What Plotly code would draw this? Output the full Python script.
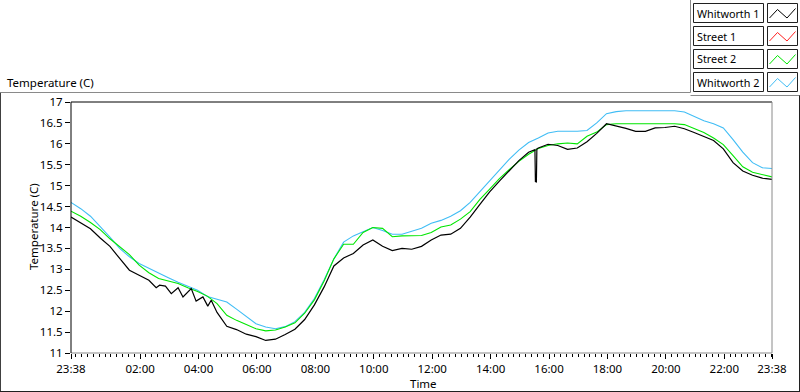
import plotly.graph_objects as go
from datetime import datetime, timedelta

# ---------------- data (sampled every 20 min from 23:38) ----------------
start_time = "2000-01-01 23:38"
end_time = "2000-01-02 23:38"
sample_minutes = 20

whitworth1 = [14.25, 14.10, 13.97, 13.75, 13.55, 13.26, 12.98, 12.86, 12.74, 12.60,
              12.61, 12.56, 12.45, 12.24, 12.14, 11.97, 11.64, 11.56, 11.45, 11.39,
              11.30, 11.33, 11.44, 11.57, 11.80, 12.15, 12.58, 13.08, 13.27, 13.38,
              13.58, 13.70, 13.55, 13.45, 13.50, 13.48, 13.55, 13.70, 13.82, 13.84,
              13.98, 14.25, 14.55, 14.85, 15.11, 15.35, 15.60, 15.80, 15.90, 15.99,
              15.96, 15.87, 15.90, 16.05, 16.25, 16.48, 16.43, 16.37, 16.30, 16.30,
              16.38, 16.39, 16.42, 16.36, 16.27, 16.18, 16.08, 15.88, 15.55, 15.35,
              15.25, 15.18, 15.15]
# finer readings of Whitworth 1 where it wiggles (these replace the 20-min samples in that window)
whitworth1_detail_times = ["2000-01-02 02:33", "2000-01-02 02:40", "2000-01-02 02:52", "2000-01-02 03:04",
                           "2000-01-02 03:18", "2000-01-02 03:28", "2000-01-02 03:45", "2000-01-02 03:55",
                           "2000-01-02 04:09", "2000-01-02 04:19", "2000-01-02 04:26", "2000-01-02 04:37"]
whitworth1_detail_vals = [12.56, 12.62, 12.60, 12.42, 12.56, 12.34, 12.54, 12.24,
                          12.34, 12.12, 12.26, 11.98]
whitworth1_spike_times = ["2000-01-02 15:31", "2000-01-02 15:32", "2000-01-02 15:34", "2000-01-02 15:35"]
whitworth1_spike_vals = [15.86, 15.10, 15.09, 15.88]

street2 = [14.39, 14.27, 14.12, 13.95, 13.73, 13.55, 13.35, 13.10, 12.92, 12.78,
           12.72, 12.66, 12.56, 12.47, 12.36, 12.18, 11.90, 11.78, 11.68, 11.58,
           11.53, 11.55, 11.62, 11.72, 11.95, 12.27, 12.72, 13.25, 13.60, 13.60,
           13.88, 14.00, 13.98, 13.78, 13.80, 13.81, 13.81, 13.88, 14.01, 14.06,
           14.20, 14.38, 14.67, 14.92, 15.17, 15.38, 15.58, 15.75, 15.89, 15.96,
           16.00, 16.02, 16.00, 16.18, 16.28, 16.46, 16.48, 16.48, 16.48, 16.48,
           16.48, 16.48, 16.48, 16.46, 16.36, 16.27, 16.14, 15.98, 15.72, 15.45,
           15.32, 15.26, 15.21]

whitworth2 = [14.60, 14.45, 14.27, 14.03, 13.77, 13.50, 13.30, 13.14, 13.02, 12.91,
              12.80, 12.69, 12.60, 12.50, 12.35, 12.28, 12.22, 12.05, 11.88, 11.70,
              11.62, 11.58, 11.63, 11.75, 11.97, 12.30, 12.75, 13.25, 13.65, 13.80,
              13.90, 14.00, 13.93, 13.84, 13.84, 13.91, 13.98, 14.10, 14.17, 14.27,
              14.40, 14.60, 14.86, 15.12, 15.39, 15.63, 15.85, 16.03, 16.14, 16.26,
              16.30, 16.30, 16.30, 16.32, 16.50, 16.72, 16.77, 16.79, 16.79, 16.79,
              16.79, 16.79, 16.79, 16.76, 16.66, 16.55, 16.48, 16.38, 16.10, 15.80,
              15.55, 15.43, 15.41]

series_names = ["Whitworth 1", "Street 1", "Street 2", "Whitworth 2"]
series_colors = ["#000000", "#ff2020", "#00e600", "#40bdf5"]

x_tick_times = ["2000-01-01 23:38", "2000-01-02 02:00", "2000-01-02 04:00", "2000-01-02 06:00",
                "2000-01-02 08:00", "2000-01-02 10:00", "2000-01-02 12:00", "2000-01-02 14:00",
                "2000-01-02 16:00", "2000-01-02 18:00", "2000-01-02 20:00", "2000-01-02 22:00",
                "2000-01-02 23:38"]
x_tick_labels = ["23:38", "02:00", "04:00", "06:00", "08:00", "10:00", "12:00", "14:00",
                 "16:00", "18:00", "20:00", "22:00", "23:38"]
y_tick_vals = [11, 11.5, 12, 12.5, 13, 13.5, 14, 14.5, 15, 15.5, 16, 16.5, 17]
y_tick_labels = ["11", "11.5", "12", "12.5", "13", "13.5", "14", "14.5", "15", "15.5", "16", "16.5", "17"]

# ---------------- build ----------------
FMT = "%Y-%m-%d %H:%M"
t0 = datetime.strptime(start_time, FMT)
times = [t0 + timedelta(minutes=sample_minutes * k) for k in range(len(whitworth1))]

det_t = [datetime.strptime(t, FMT) for t in whitworth1_detail_times]
w1_pts = [(t, v) for t, v in zip(times, whitworth1) if not (det_t[0] <= t <= det_t[-1])]
w1_pts += list(zip(det_t, whitworth1_detail_vals))
w1_pts += [(datetime.strptime(t, FMT), v) for t, v in zip(whitworth1_spike_times, whitworth1_spike_vals)]
w1_pts.sort(key=lambda p: p[0])

FONT = "Noto Sans"
FS = 11.5

fig = go.Figure()
fig.add_trace(go.Scatter(x=times, y=whitworth2, mode="lines", name=series_names[3],
                         line=dict(color=series_colors[3], width=1.1), showlegend=False))
fig.add_trace(go.Scatter(x=times, y=street2, mode="lines", name=series_names[2],
                         line=dict(color=series_colors[2], width=1.1), showlegend=False))
fig.add_trace(go.Scatter(x=[p[0] for p in w1_pts], y=[p[1] for p in w1_pts], mode="lines",
                         name=series_names[0], line=dict(color=series_colors[0], width=1.2),
                         showlegend=False))

# plot-area pixel geometry
W, H = 800, 392
PL, PR, PT, PB = 71, 772, 102, 353


def xp(x):
    return (x - PL) / (PR - PL)


def yp(y):
    return (PB - y) / (PB - PT)


shapes = []
annotations = []


def line(x0, y0, x1, y1, color, width=1):
    shapes.append(dict(type="line", xref="paper", yref="paper", x0=xp(x0), y0=yp(y0),
                       x1=xp(x1), y1=yp(y1), line=dict(color=color, width=width)))


def rect(x0, y0, x1, y1, color, fill="white", width=1):
    shapes.append(dict(type="rect", xref="paper", yref="paper", x0=xp(x0), y0=yp(y0),
                       x1=xp(x1), y1=yp(y1), line=dict(color=color, width=width), fillcolor=fill))


def text(x, y, s, xanchor="left", yanchor="middle", angle=0, size=FS):
    annotations.append(dict(x=xp(x), y=yp(y), xref="paper", yref="paper", text=s, showarrow=False,
                            xanchor=xanchor, yanchor=yanchor, textangle=angle,
                            font=dict(family=FONT, size=size, color="#000")))


# outer chart frame
line(0.5, 92.5, 690.5, 92.5, "#8a8a8a")
line(690.5, 0, 690.5, 92.5, "#8a8a8a")
line(690.5, 95.5, 800, 95.5, "#8a8a8a")
line(0.5, 92.5, 0.5, 391.5, "#404040")
line(0, 391.5, 800, 391.5, "#202020")
line(799.5, 95.5, 799.5, 391.5, "#202020")

# plot-area frame
line(PL, PT, PR, PT, "#000000")
line(PR, PT, PR, PB, "#8a8a8a")
line(PL, PB, PR, PB, "#8a8a8a")
line(PL, PT, PL, PB, "#000000")

# titles
text(5, 82, "Temperature (C)")
text(33, 227, "Temperature (C)", xanchor="center", angle=-90)
text((PL + PR) / 2 + 2, 383, "Time", xanchor="center")

# custom legend
row_centers = [13, 36, 59, 82]
for name, color, yc in zip(series_names, series_colors, row_centers):
    rect(693.5, yc - 9.5, 763.5, yc + 9.5, "#202020")
    rect(767.5, yc - 9.5, 797.5, yc + 9.5, "#202020")
    text(695, yc, name, size=10.8)
    zx = [769.5, 777.5, 787, 795.5]
    zy = [yc + 5, yc - 3.5, yc + 5, yc - 4.5]
    for i in range(3):
        line(zx[i], zy[i], zx[i + 1], zy[i + 1], color, 1)

fig.update_layout(
    width=W, height=H,
    margin=dict(l=PL, r=W - PR, t=PT, b=H - PB, pad=0),
    paper_bgcolor="white", plot_bgcolor="white",
    showlegend=False,
    shapes=shapes, annotations=annotations,
    font=dict(family=FONT, size=FS, color="#000"),
)
fig.update_xaxes(
    type="date", range=[start_time, end_time],
    tickvals=x_tick_times, ticktext=x_tick_labels,
    ticks="outside", ticklen=5, tickwidth=1, tickcolor="#000",
    showgrid=False, zeroline=False, showline=False,
    tickfont=dict(family=FONT, size=FS, color="#000"),
    minor=dict(dtick=12 * 60 * 1000, tick0="2000-01-02 00:00", ticks="outside",
               ticklen=3, tickcolor="#000", showgrid=False),
)
fig.update_yaxes(
    range=[11, 17], tickvals=y_tick_vals, ticktext=y_tick_labels,
    ticks="outside", ticklen=5, tickwidth=1, tickcolor="#000",
    showgrid=False, zeroline=False, showline=False,
    tickfont=dict(family=FONT, size=FS, color="#000"),
)

fig.write_html("out.html", config={"displayModeBar": False},
               post_script="document.body.style.margin='0';")
